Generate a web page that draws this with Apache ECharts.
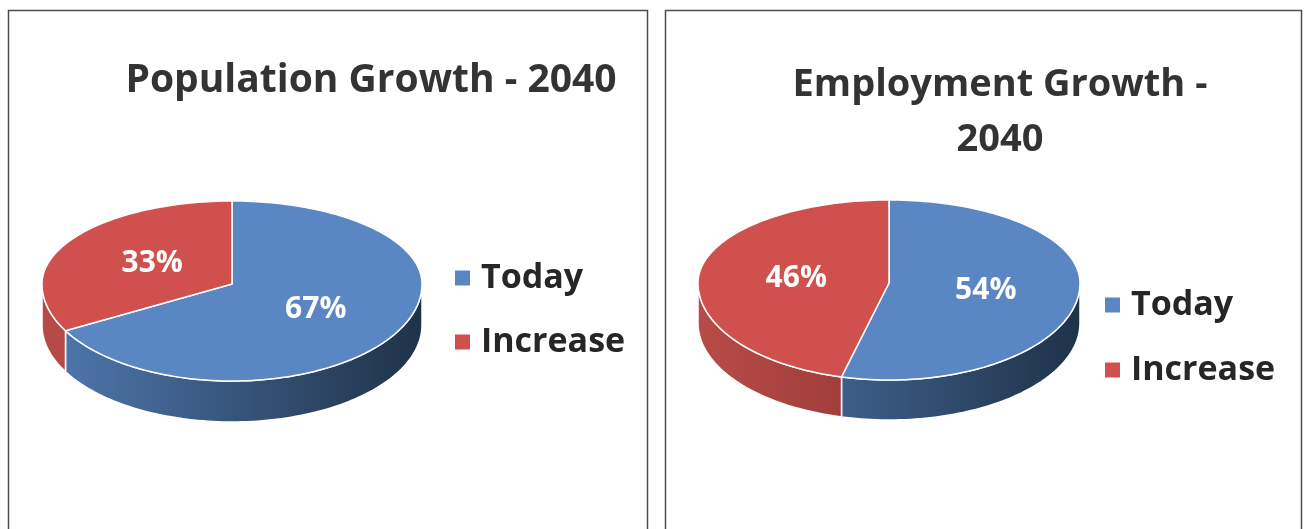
<!DOCTYPE html>
<html>
<head>
<meta charset="utf-8">
<title>Population and Employment Growth - 2040</title>
<script src="https://cdn.jsdelivr.net/npm/echarts@6/dist/echarts.min.js"></script>
<style>
  html, body { margin: 0; padding: 0; background: #ffffff; }
  #chart { width: 1304px; height: 529px; }
</style>
</head>
<body>
<div id="chart"></div>
<script>
// ---- data ----
const categories = ['Today', 'Increase'];
const populationShare = [67, 33];
const employmentShare = [54, 46];
const chartTitles = ['Population Growth - 2040', 'Employment Growth -\n2040'];

// ---- layout / style ----
const shareSets = [populationShare, employmentShare];
const FONT = '"Open Sans", "Liberation Sans", sans-serif';
const topColors = ['#5a86c4', '#cf504d'];
const wallColors = [
  ['#5079b0', '#1f3248'],   // blue side: lit left -> shaded right
  ['#b84b48', '#7a2826']    // red side
];
// tilted-disc geometry for each chart (ellipse centre, radii, thickness)
const discs = [
  { cx: 232, cy: 284, rx: 190, ryTop: 83, ryBottom: 97, depth: 41 },
  { cx: 889, cy: 283, rx: 191, ryTop: 83, ryBottom: 97, depth: 40 }
];

function rimPoint(d, deg, dy) {
  const a = deg * Math.PI / 180;
  const s = Math.sin(a);
  const ry = s >= 0 ? d.ryTop : d.ryBottom;
  return [d.cx + d.rx * Math.cos(a), d.cy - ry * s + (dy || 0)];
}

function arc(d, from, to, dy) {
  const pts = [];
  const n = Math.max(2, Math.ceil(Math.abs(to - from) / 1.5));
  for (let i = 0; i <= n; i++) {
    pts.push(rimPoint(d, from + (to - from) * i / n, dy));
  }
  return pts;
}

function sliceRenderer(chartIdx, sliceIdx) {
  return function (params, api) {
    const shares = shareSets[chartIdx];
    const total = shares.reduce((s, v) => s + v, 0);
    let before = 0;
    for (let i = 0; i < sliceIdx; i++) before += shares[i];
    const value = api.value(0);
    const d = discs[chartIdx];
    // slices run clockwise from 12 o'clock
    const a0 = 90 - 360 * before / total;
    const a1 = a0 - 360 * value / total;
    const children = [];

    // visible front wall: part of the slice in the lower half of the disc
    const lo = Math.max(a1, -180), hi = Math.min(a0, 0);
    if (hi > lo) {
      const topEdge = arc(d, lo, hi, 0);
      const bottomEdge = arc(d, hi, lo, d.depth);
      children.push({
        type: 'polygon',
        shape: { points: topEdge.concat(bottomEdge) },
        style: {
          fill: new echarts.graphic.LinearGradient(
            d.cx - d.rx, 0, d.cx + d.rx, 0,
            [{ offset: 0, color: wallColors[sliceIdx][0] },
             { offset: 1, color: wallColors[sliceIdx][1] }], true),
          stroke: '#ffffff',
          lineWidth: 1.5
        }
      });
    }

    // top face
    children.push({
      type: 'polygon',
      shape: { points: [[d.cx, d.cy]].concat(arc(d, a0, a1, 0)) },
      style: { fill: topColors[sliceIdx], stroke: '#ffffff', lineWidth: 1.5, lineJoin: 'round' }
    });

    // percentage label
    const mid = (a0 + a1) / 2;
    const p = rimPoint({ cx: d.cx, cy: d.cy, rx: d.rx * 0.5, ryTop: d.ryTop * 0.5, ryBottom: d.ryBottom * 0.5 }, mid, 0);
    children.push({
      type: 'text',
      x: p[0] + 2, y: p[1] + 1,
      style: {
        text: Math.round(value / total * 100) + '%',
        fill: '#ffffff',
        font: 'bold 30px ' + FONT,
        align: 'center',
        verticalAlign: 'middle'
      }
    });
    return { type: 'group', children: children };
  };
}

const series = [];
shareSets.forEach((shares, ci) => {
  categories.forEach((name, si) => {
    series.push({
      type: 'custom',
      name: name,
      coordinateSystem: 'none',
      silent: true,
      itemStyle: { color: topColors[si] },
      data: [[shares[si]]],
      renderItem: sliceRenderer(ci, si)
    });
  });
});

const legendText = {
  fontFamily: FONT, fontSize: 34, fontWeight: 'bold', color: '#262626',
  lineHeight: 40, padding: [0, 0, 0, 6]
};

const option = {
  animation: false,
  backgroundColor: '#ffffff',
  title: [
    {
      text: chartTitles[0], left: 366, top: 53, textAlign: 'center',
      textStyle: { fontFamily: FONT, fontSize: 39, fontWeight: 'bold', color: '#333333', lineHeight: 46 }
    },
    {
      text: chartTitles[1], left: 995, top: 53, textAlign: 'center',
      textStyle: { fontFamily: FONT, fontSize: 38, fontWeight: 'bold', color: '#333333', lineHeight: 55 }
    }
  ],
  legend: [
    {
      data: categories, orient: 'vertical', left: 455, top: 258, padding: 0,
      icon: 'rect', itemWidth: 15, itemHeight: 15, itemGap: 24,
      selectedMode: false, textStyle: legendText
    },
    {
      data: categories, orient: 'vertical', left: 1105, top: 285, padding: 0,
      icon: 'rect', itemWidth: 15, itemHeight: 15, itemGap: 25,
      selectedMode: false, textStyle: legendText
    }
  ],
  graphic: [
    { type: 'rect', shape: { x: 8.5, y: 10.5, width: 639, height: 540 },
      style: { fill: 'none', stroke: '#4d4d4d', lineWidth: 1.5 }, silent: true, z: -1 },
    { type: 'rect', shape: { x: 665.5, y: 10.5, width: 636, height: 540 },
      style: { fill: 'none', stroke: '#4d4d4d', lineWidth: 1.5 }, silent: true, z: -1 }
  ],
  series: series
};

const chart = echarts.init(document.getElementById('chart'), null, { renderer: 'canvas' });
chart.setOption(option);
</script>
</body>
</html>
